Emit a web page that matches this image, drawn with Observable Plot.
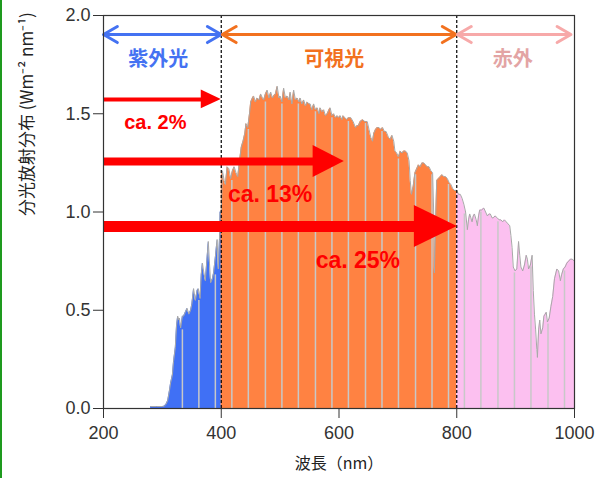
<!DOCTYPE html>
<html><head><meta charset="utf-8">
<script src="https://cdn.jsdelivr.net/npm/d3@7"></script>
<script src="https://cdn.jsdelivr.net/npm/@observablehq/plot@0.6"></script>
<style>
html,body{margin:0;padding:0;background:#fff;}
#edge{position:fixed;left:0;top:0;width:2px;height:100%;background:#1e9a1e;}
</style></head><body><div id="chart"></div><div id="edge"></div>
<script>
// Spectral irradiance (nm, W m^-2 nm^-1)
const uv = [[280,0.01],[290,0.01],[300,0.01],[303,0.012],[306,0.02],[309,0.04],[312,0.09],[314,0.13],[317,0.17],[319,0.24],[322,0.31],[324,0.42],[326,0.47],[328,0.45],[329,0.46],[331,0.41],[334,0.47],[336,0.47],[339,0.49],[342,0.51],[345,0.48],[348,0.50],[350,0.53],[353,0.61],[356,0.55],[359,0.60],[361,0.61],[364,0.56],[366,0.68],[368,0.74],[370,0.70],[373,0.65],[376,0.77],[378,0.85],[380,0.74],[382,0.64],[385,0.66],[387,0.69],[390,0.77],[393,0.86],[395,0.71],[397,0.86],[398,1.0],[400,1.0]];
const vis = [[400,1.18],[402,1.21],[405,1.16],[407,1.14],[410,1.23],[413,1.22],[416,1.17],[419,1.21],[422,1.23],[425,1.20],[428,1.18],[431,1.26],[434,1.33],[437,1.36],[440,1.40],[442,1.45],[445,1.43],[448,1.50],[450,1.56],[453,1.58],[455,1.59],[458,1.56],[461,1.58],[464,1.57],[467,1.60],[470,1.58],[472,1.57],[475,1.60],[478,1.62],[481,1.58],[484,1.61],[487,1.58],[489,1.59],[492,1.60],[495,1.64],[498,1.58],[500,1.59],[503,1.56],[506,1.63],[509,1.58],[512,1.59],[515,1.57],[517,1.61],[520,1.55],[523,1.62],[526,1.57],[529,1.58],[532,1.56],[534,1.58],[537,1.55],[540,1.57],[543,1.54],[546,1.56],[549,1.55],[551,1.55],[554,1.52],[557,1.55],[560,1.52],[563,1.53],[566,1.50],[568,1.53],[571,1.51],[574,1.52],[577,1.49],[580,1.50],[583,1.52],[585,1.53],[588,1.49],[591,1.50],[594,1.48],[597,1.49],[599,1.48],[602,1.49],[605,1.47],[607,1.49],[610,1.48],[613,1.47],[616,1.48],[620,1.48],[624,1.46],[628,1.43],[631,1.44],[633,1.44],[636,1.46],[640,1.47],[644,1.46],[648,1.46],[651,1.42],[654,1.38],[657,1.36],[659,1.40],[662,1.42],[665,1.43],[668,1.43],[671,1.42],[674,1.43],[677,1.41],[680,1.41],[684,1.38],[687,1.37],[690,1.39],[693,1.36],[695,1.31],[698,1.30],[701,1.28],[704,1.31],[707,1.30],[710,1.31],[713,1.31],[716,1.30],[719,1.26],[721,1.16],[723,1.09],[726,1.13],[729,1.20],[732,1.22],[735,1.24],[738,1.23],[741,1.25],[744,1.25],[747,1.24],[750,1.23],[753,1.23],[756,1.21],[759,1.20],[761,0.98],[762,0.69],[764,0.95],[766,1.16],[769,1.17],[772,1.18],[775,1.19],[778,1.18],[781,1.18],[784,1.17],[787,1.15],[790,1.14],[793,1.12],[796,1.11],[800,1.11]];
const ir = [[800,1.11],[803,1.09],[806,1.09],[809,1.07],[812,1.04],[815,1.00],[818,0.91],[820,0.96],[822,0.99],[824,0.97],[826,0.95],[828,0.98],[830,0.99],[833,0.96],[835,0.93],[837,0.98],[839,1.01],[842,1.01],[846,1.02],[849,1.00],[852,0.98],[855,0.99],[857,0.99],[860,0.97],[862,0.97],[865,0.98],[869,0.97],[872,0.96],[875,0.96],[878,0.95],[881,0.96],[884,0.95],[887,0.94],[890,0.93],[892,0.88],[894,0.82],[896,0.72],[899,0.70],[902,0.71],[905,0.85],[907,0.78],[909,0.72],[912,0.70],[915,0.73],[918,0.78],[920,0.76],[922,0.71],[925,0.73],[928,0.78],[930,0.60],[932,0.48],[934,0.40],[936,0.30],[937,0.26],[939,0.40],[941,0.45],[943,0.38],[946,0.41],[948,0.47],[950,0.48],[952,0.49],[954,0.44],[957,0.46],[960,0.52],[963,0.57],[966,0.66],[970,0.71],[973,0.70],[976,0.65],[978,0.68],[981,0.71],[984,0.72],[987,0.74],[990,0.75],[993,0.76],[996,0.76],[1000,0.75]];
// light vertical gaps visible in the filled spectrum (nm)
const gapLines = [334,362,390,418,446,475,503,531,560,588,616,645,673,701,730,758,786,813,841,870,898,926,955,983];

const xTicks = [200,400,600,800,1000];
const yTicks = [0,0.5,1.0,1.5,2.0];
const boundaries = [400,800];

// band annotations (top double arrows and names)
const bandNames = ["紫外光","可視光","赤外"];
const bandFrom = [200,401.7,801];
const bandTo = [400,799,994];
const bandLabelX = [293,592,895];
const bandArrowY = 1.903;
const bandLabelY = 1.776;

// red share arrows
const shareLabels = ["ca. 2%","ca. 13%","ca. 25%"];
const shareY = [1.573,1.257,0.926];
const shareTip = [400,609,801];
const shareBase = [366,556,728];
const shareHalf = [0.048,0.081,0.107];
const shareLabelX = [288,483,632];
const shareLabelY = [1.455,1.089,0.753];

const toObj = a => a.map(([nm, v]) => ({nm, v}));
const all = [...uv, ...vis.slice(1), ...ir.slice(1)].map(([nm, v]) => ({nm, v}));
const bis = d3.bisector(d => d.nm).left;
function valAt(nm) {
  const i = bis(all, nm);
  const a = all[Math.max(0, i - 1)], b = all[Math.min(all.length - 1, i)];
  return Math.min(a.v, b.v) - 0.01;
}
const gaps = gapLines.map(nm => ({nm, top: valAt(nm)}));

const bandColors = ["#4472f2","#f2711f","#f7a9a9"];
const labelColors = ["#4472f2","#f2711f","#e3a4a4"];
const shaftW = [4,8,11];
const shareFont = [20,23,23];

const marks = [
  Plot.areaY(toObj(uv), {x: "nm", y: "v", fill: "#4070f5"}),
  Plot.areaY(toObj(vis), {x: "nm", y: "v", fill: "#ff8242"}),
  Plot.areaY(toObj(ir), {x: "nm", y: "v", fill: "#fcc0f0"}),
  Plot.ruleX(gaps, {x: "nm", y1: 0, y2: "top", stroke: "#c8c8c8", strokeWidth: 1.5}),
  Plot.lineY(all, {x: "nm", y: "v", stroke: "#a8a8a8", strokeWidth: 1}),
  Plot.ruleX(boundaries, {y1: 0, y2: 2, stroke: "#000", strokeWidth: 1.2, strokeDasharray: "3,2"})
];

bandNames.forEach((name, i) => {
  const mid = (bandFrom[i] + bandTo[i]) / 2;
  marks.push(Plot.arrow([{a: mid, b: bandFrom[i]}, {a: mid, b: bandTo[i]}], {
    x1: "a", x2: "b", y1: bandArrowY, y2: bandArrowY,
    stroke: bandColors[i], strokeWidth: 3, headLength: 8, headAngle: 60
  }));
  marks.push(Plot.text([name], {x: bandLabelX[i], y: bandLabelY, text: d => d,
    fill: labelColors[i], fontSize: 20, fontWeight: "bold",
    fontFamily: "'Noto Sans CJK JP', sans-serif"}));
});

shareLabels.forEach((lab, i) => {
  marks.push(Plot.ruleY([{y: shareY[i], x1: 200, x2: shareBase[i] + 1}], {
    y: "y", x1: "x1", x2: "x2", stroke: "#ff0000", strokeWidth: shaftW[i], strokeLinecap: "butt"}));
  marks.push(Plot.areaY([
    {x: shareBase[i], lo: shareY[i] - shareHalf[i], hi: shareY[i] + shareHalf[i]},
    {x: shareTip[i], lo: shareY[i], hi: shareY[i]}
  ], {x: "x", y1: "lo", y2: "hi", fill: "#ff0000"}));
  marks.push(Plot.text([lab], {x: shareLabelX[i], y: shareLabelY[i], text: d => d,
    fill: "#ff0000", fontSize: shareFont[i], fontWeight: "bold",
    fontFamily: "'Liberation Sans', Arial, sans-serif"}));
});

marks.push(
  Plot.axisY({ticks: yTicks, tickFormat: d3.format(".1f"), tickSize: 10, tickPadding: 3, fontSize: 18, label: null}),
  Plot.axisX({ticks: xTicks, tickFormat: d => String(d), tickSize: 10, tickPadding: 8, fontSize: 18, label: null}),
  Plot.frame({stroke: "#333", strokeWidth: 1.2}),
  Plot.text(["分光放射分布 (Wm⁻² nm⁻¹)"], {frameAnchor: "left", dx: -76, dy: 4, rotate: -90,
    text: d => d, fontSize: 17, fill: "#222", fontFamily: "'Noto Sans CJK JP', 'Liberation Sans', sans-serif"}),
  Plot.text(["波長（nm）"], {frameAnchor: "bottom", dy: 60, text: d => d, fontSize: 16, fill: "#222",
    fontFamily: "'Noto Sans CJK JP', sans-serif"})
);

const chart = Plot.plot({
  width: 596, height: 478,
  marginLeft: 103, marginRight: 22, marginTop: 15, marginBottom: 70,
  x: {domain: [200, 1000]},
  y: {domain: [0, 2]},
  style: {fontFamily: "'Liberation Sans', Arial, sans-serif", color: "#333", background: "#fff", overflow: "visible"},
  marks
});
document.getElementById("chart").appendChild(chart);
</script></body></html>
